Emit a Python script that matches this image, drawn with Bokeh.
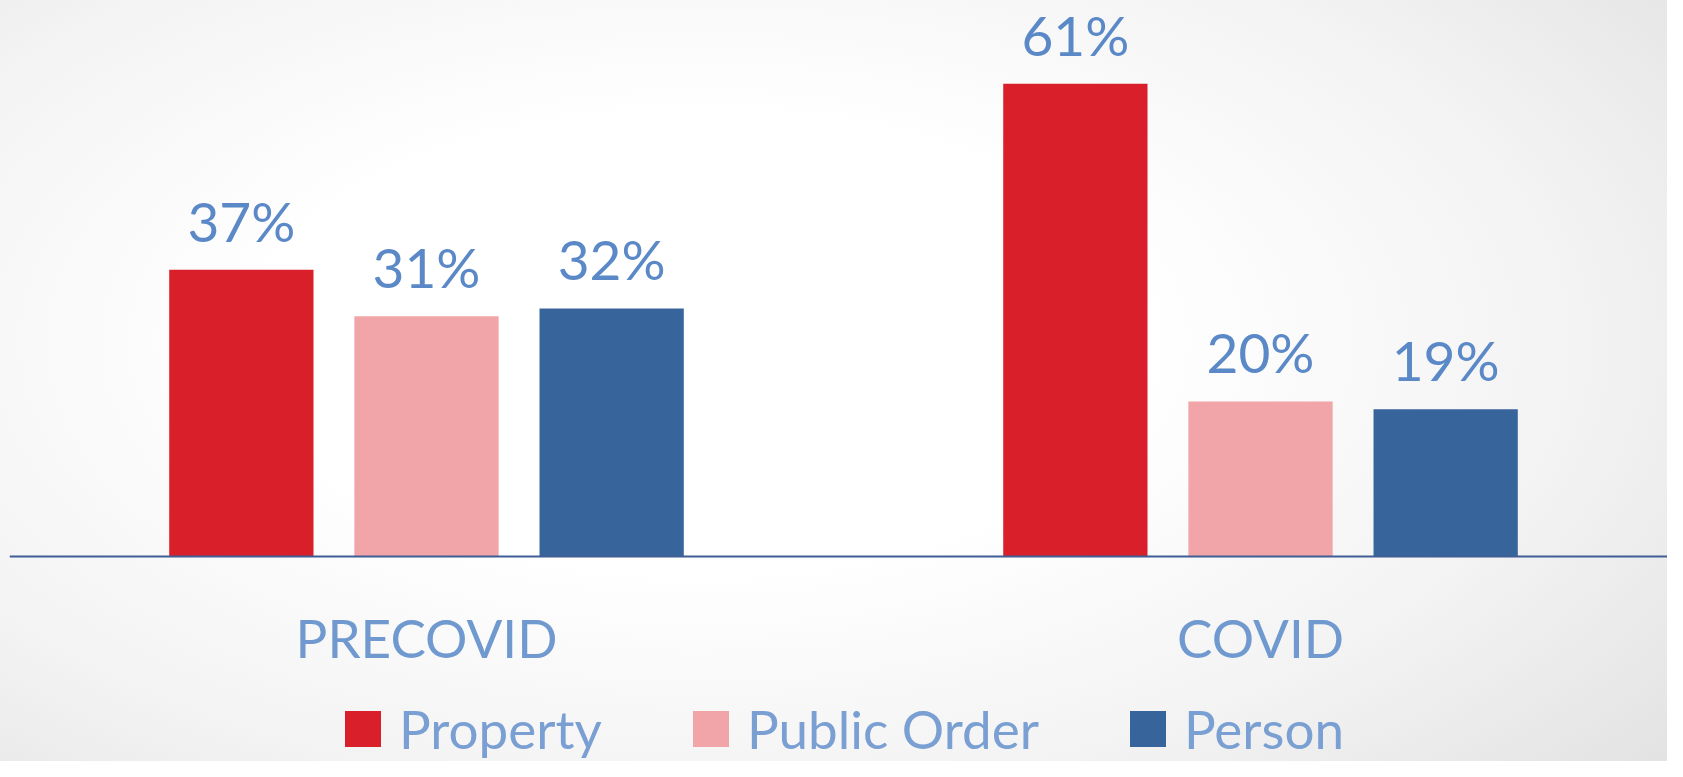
from bokeh.plotting import figure
from bokeh.models import ColumnDataSource, LabelSet, Legend, LegendItem, InlineStyleSheet, FixedTicker, Range1d
from bokeh.core.properties import value
from bokeh.embed import file_html
from bokeh.resources import INLINE

periods = ["PRECOVID", "COVID"]
series = ["Property", "Public Order", "Person"]
property_vals = [37, 61]
public_order_vals = [31, 20]
person_vals = [32, 19]
colors = ["#D91F29", "#F2A5A8", "#38649C"]
offsets = [-0.222, 0.0, 0.222]

FONT = "Lato"

centers = [i + 0.5 for i in range(len(periods))]

p = figure(x_range=Range1d(0, 1.988), y_range=Range1d(-26.45, 71.74),
           width=1667, height=761, output_backend="svg", toolbar_location=None,
           min_border_left=9, min_border_right=0, min_border_top=0, min_border_bottom=0)
p.stylesheets = [InlineStyleSheet(css=":host { background: radial-gradient(ellipse 75% 85% at 42% 45%, #ffffff 35%, #f3f3f3 70%, #e3e3e3 100%); }")]
p.background_fill_color = None
p.border_fill_color = None
p.outline_line_color = None
p.xgrid.grid_line_color = None
p.ygrid.grid_line_color = None
p.yaxis.visible = False

p.xaxis.fixed_location = 0
p.xaxis.ticker = FixedTicker(ticks=centers)
p.xaxis.major_label_overrides = {c: lab for c, lab in zip(centers, periods)}
p.xaxis.axis_line_color = "#3F5E96"
p.xaxis.axis_line_width = 2
p.xaxis.major_tick_line_color = None
p.xaxis.minor_tick_line_color = None
p.xaxis.major_label_text_font = FONT
p.xaxis.major_label_text_font_size = "53px"
p.xaxis.major_label_text_color = "#7099CF"
p.xaxis.major_label_standoff = 43

items = []
for name, vals, col, off in zip(series, [property_vals, public_order_vals, person_vals], colors, offsets):
    src = ColumnDataSource(dict(x=[c + off for c in centers], y=vals, lab=[f"{v}%" for v in vals]))
    r = p.vbar(x="x", top="y", width=0.173, source=src, fill_color=col, line_color=None)
    items.append(LegendItem(label=name, renderers=[r]))
    lbl = LabelSet(x="x", y="y", text="lab", source=src,
                   text_align="center", text_baseline="alphabetic", y_offset=28,
                   text_font=value(FONT), text_font_size="55px", text_color="#5B89C7")
    p.add_layout(lbl)

legend = Legend(items=items, orientation="horizontal", location=(331, 1),
                glyph_width=45, glyph_height=45, label_standoff=14, spacing=86,
                label_text_font=FONT, label_text_font_size="53px", label_text_color="#7A9FD2",
                background_fill_alpha=0, border_line_color=None, padding=0, margin=0)
p.add_layout(legend, "center")

open("out.html", "w").write(file_html(p, INLINE))
